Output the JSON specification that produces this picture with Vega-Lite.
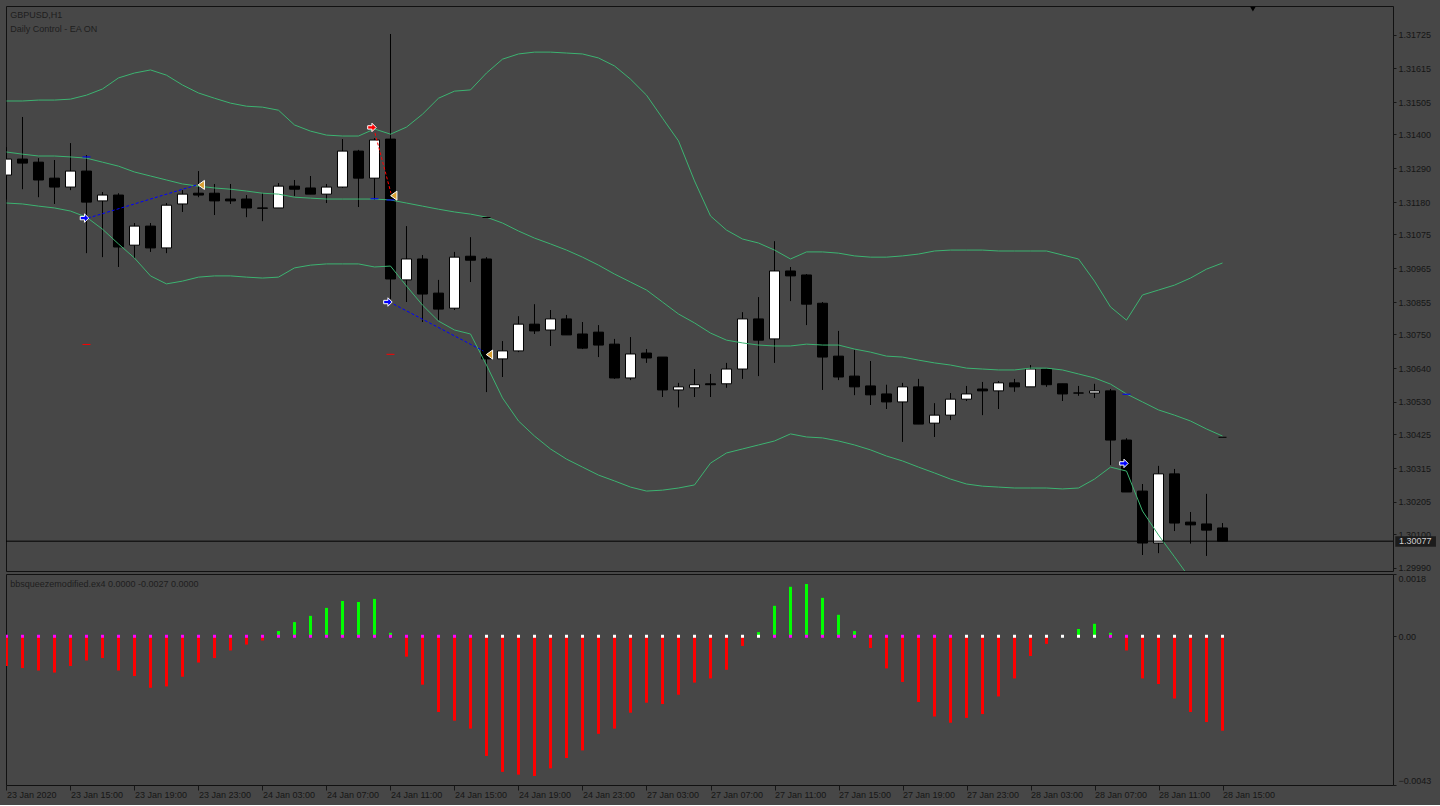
{
  "$schema": "https://vega.github.io/schema/vega-lite/v6.json",
  "background": "#474747",
  "padding": {"left": 5, "top": 5, "right": 5, "bottom": 5},
  "spacing": 3,
  "bounds": "flush",
  "resolve": {"scale": {"color": "independent", "fill": "independent", "stroke": "independent"}},
  "datasets": {
    "bars": [
      {"i":0,"o":1.31268,"h":1.31359,"l":1.31188,"c":1.31320,"up":1.31509,"mid":1.31343,"lo":1.31177,"hist":-0.00086,"sq":1},
      {"i":1,"o":1.31320,"h":1.31457,"l":1.31222,"c":1.31307,"up":1.31509,"mid":1.31336,"lo":1.31174,"hist":-0.00092,"sq":1},
      {"i":2,"o":1.31310,"h":1.31323,"l":1.31196,"c":1.31252,"up":1.31512,"mid":1.31330,"lo":1.31167,"hist":-0.00099,"sq":1},
      {"i":3,"o":1.31258,"h":1.31317,"l":1.31174,"c":1.31229,"up":1.31512,"mid":1.31330,"lo":1.31161,"hist":-0.00105,"sq":1},
      {"i":4,"o":1.31229,"h":1.31372,"l":1.31219,"c":1.31281,"up":1.31515,"mid":1.31327,"lo":1.31151,"hist":-0.00086,"sq":1},
      {"i":5,"o":1.31281,"h":1.31333,"l":1.31014,"c":1.31180,"up":1.31528,"mid":1.31323,"lo":1.31131,"hist":-0.00070,"sq":1},
      {"i":6,"o":1.31184,"h":1.31213,"l":1.31001,"c":1.31203,"up":1.31548,"mid":1.31310,"lo":1.31092,"hist":-0.00063,"sq":1},
      {"i":7,"o":1.31203,"h":1.31209,"l":1.30969,"c":1.31034,"up":1.31584,"mid":1.31297,"lo":1.31044,"hist":-0.00099,"sq":1},
      {"i":8,"o":1.31040,"h":1.31112,"l":1.30998,"c":1.31102,"up":1.31600,"mid":1.31278,"lo":1.30998,"hist":-0.00115,"sq":1},
      {"i":9,"o":1.31102,"h":1.31112,"l":1.31018,"c":1.31031,"up":1.31610,"mid":1.31265,"lo":1.30940,"hist":-0.00149,"sq":1},
      {"i":10,"o":1.31031,"h":1.31177,"l":1.31014,"c":1.31170,"up":1.31593,"mid":1.31252,"lo":1.30914,"hist":-0.00145,"sq":1},
      {"i":11,"o":1.31174,"h":1.31219,"l":1.31148,"c":1.31206,"up":1.31561,"mid":1.31239,"lo":1.30923,"hist":-0.00117,"sq":1},
      {"i":12,"o":1.31209,"h":1.31281,"l":1.31196,"c":1.31203,"up":1.31535,"mid":1.31232,"lo":1.30936,"hist":-0.00076,"sq":1},
      {"i":13,"o":1.31209,"h":1.31239,"l":1.31138,"c":1.31184,"up":1.31518,"mid":1.31226,"lo":1.30940,"hist":-0.00063,"sq":1},
      {"i":14,"o":1.31190,"h":1.31239,"l":1.31174,"c":1.31184,"up":1.31502,"mid":1.31222,"lo":1.30940,"hist":-0.00041,"sq":1},
      {"i":15,"o":1.31190,"h":1.31203,"l":1.31131,"c":1.31161,"up":1.31492,"mid":1.31216,"lo":1.30936,"hist":-0.00024,"sq":1},
      {"i":16,"o":1.31161,"h":1.31209,"l":1.31118,"c":1.31160,"up":1.31489,"mid":1.31209,"lo":1.30933,"hist":-0.00012,"sq":1},
      {"i":17,"o":1.31161,"h":1.31242,"l":1.31161,"c":1.31232,"up":1.31479,"mid":1.31206,"lo":1.30936,"hist":0.00015,"sq":1},
      {"i":18,"o":1.31232,"h":1.31252,"l":1.31200,"c":1.31222,"up":1.31431,"mid":1.31196,"lo":1.30966,"hist":0.00041,"sq":1},
      {"i":19,"o":1.31226,"h":1.31265,"l":1.31206,"c":1.31206,"up":1.31411,"mid":1.31193,"lo":1.30975,"hist":0.00059,"sq":1},
      {"i":20,"o":1.31206,"h":1.31239,"l":1.31177,"c":1.31229,"up":1.31398,"mid":1.31190,"lo":1.30979,"hist":0.00082,"sq":1},
      {"i":21,"o":1.31229,"h":1.31385,"l":1.31226,"c":1.31346,"up":1.31395,"mid":1.31190,"lo":1.30979,"hist":0.00102,"sq":1},
      {"i":22,"o":1.31346,"h":1.31350,"l":1.31164,"c":1.31258,"up":1.31395,"mid":1.31190,"lo":1.30979,"hist":0.00099,"sq":1},
      {"i":23,"o":1.31258,"h":1.31388,"l":1.31187,"c":1.31382,"up":1.31418,"mid":1.31190,"lo":1.30969,"hist":0.00108,"sq":1},
      {"i":24,"o":1.31385,"h":1.31727,"l":1.30865,"c":1.30930,"up":1.31401,"mid":1.31187,"lo":1.30972,"hist":0.00010,"sq":1},
      {"i":25,"o":1.30927,"h":1.31102,"l":1.30855,"c":1.30995,"up":1.31424,"mid":1.31177,"lo":1.30907,"hist":-0.00059,"sq":1},
      {"i":26,"o":1.30995,"h":1.31008,"l":1.30790,"c":1.30881,"up":1.31466,"mid":1.31167,"lo":1.30845,"hist":-0.00140,"sq":1},
      {"i":27,"o":1.30884,"h":1.30927,"l":1.30796,"c":1.30832,"up":1.31518,"mid":1.31157,"lo":1.30793,"hist":-0.00219,"sq":1},
      {"i":28,"o":1.30835,"h":1.31018,"l":1.30829,"c":1.31001,"up":1.31541,"mid":1.31148,"lo":1.30764,"hist":-0.00244,"sq":1},
      {"i":29,"o":1.31004,"h":1.31066,"l":1.30920,"c":1.30991,"up":1.31545,"mid":1.31141,"lo":1.30751,"hist":-0.00267,"sq":1},
      {"i":30,"o":1.30995,"h":1.31001,"l":1.30562,"c":1.30670,"up":1.31600,"mid":1.31131,"lo":1.30650,"hist":-0.00346,"sq":0},
      {"i":31,"o":1.30670,"h":1.30728,"l":1.30611,"c":1.30696,"up":1.31645,"mid":1.31112,"lo":1.30543,"hist":-0.00392,"sq":0},
      {"i":32,"o":1.30696,"h":1.30809,"l":1.30692,"c":1.30783,"up":1.31662,"mid":1.31086,"lo":1.30468,"hist":-0.00400,"sq":0},
      {"i":33,"o":1.30783,"h":1.30848,"l":1.30751,"c":1.30761,"up":1.31668,"mid":1.31063,"lo":1.30419,"hist":-0.00404,"sq":0},
      {"i":34,"o":1.30764,"h":1.30829,"l":1.30712,"c":1.30800,"up":1.31668,"mid":1.31044,"lo":1.30377,"hist":-0.00382,"sq":0},
      {"i":35,"o":1.30800,"h":1.30813,"l":1.30748,"c":1.30748,"up":1.31665,"mid":1.31024,"lo":1.30344,"hist":-0.00352,"sq":0},
      {"i":36,"o":1.30751,"h":1.30790,"l":1.30702,"c":1.30705,"up":1.31662,"mid":1.31001,"lo":1.30318,"hist":-0.00330,"sq":0},
      {"i":37,"o":1.30757,"h":1.30780,"l":1.30676,"c":1.30715,"up":1.31649,"mid":1.30975,"lo":1.30292,"hist":-0.00282,"sq":0},
      {"i":38,"o":1.30718,"h":1.30735,"l":1.30605,"c":1.30608,"up":1.31623,"mid":1.30946,"lo":1.30273,"hist":-0.00267,"sq":0},
      {"i":39,"o":1.30608,"h":1.30741,"l":1.30601,"c":1.30686,"up":1.31580,"mid":1.30920,"lo":1.30253,"hist":-0.00221,"sq":0},
      {"i":40,"o":1.30689,"h":1.30702,"l":1.30657,"c":1.30673,"up":1.31528,"mid":1.30894,"lo":1.30240,"hist":-0.00192,"sq":0},
      {"i":41,"o":1.30676,"h":1.30676,"l":1.30546,"c":1.30569,"up":1.31453,"mid":1.30855,"lo":1.30243,"hist":-0.00196,"sq":0},
      {"i":42,"o":1.30569,"h":1.30592,"l":1.30512,"c":1.30579,"up":1.31379,"mid":1.30816,"lo":1.30250,"hist":-0.00169,"sq":0},
      {"i":43,"o":1.30576,"h":1.30637,"l":1.30546,"c":1.30586,"up":1.31249,"mid":1.30787,"lo":1.30260,"hist":-0.00134,"sq":0},
      {"i":44,"o":1.30589,"h":1.30621,"l":1.30546,"c":1.30586,"up":1.31135,"mid":1.30754,"lo":1.30331,"hist":-0.00122,"sq":0},
      {"i":45,"o":1.30589,"h":1.30657,"l":1.30576,"c":1.30637,"up":1.31089,"mid":1.30731,"lo":1.30364,"hist":-0.00097,"sq":0},
      {"i":46,"o":1.30637,"h":1.30822,"l":1.30605,"c":1.30800,"up":1.31060,"mid":1.30722,"lo":1.30377,"hist":-0.00028,"sq":0},
      {"i":47,"o":1.30800,"h":1.30871,"l":1.30614,"c":1.30731,"up":1.31047,"mid":1.30715,"lo":1.30390,"hist":0.00012,"sq":0},
      {"i":48,"o":1.30735,"h":1.31053,"l":1.30657,"c":1.30956,"up":1.31024,"mid":1.30712,"lo":1.30403,"hist":0.00088,"sq":1},
      {"i":49,"o":1.30956,"h":1.30969,"l":1.30858,"c":1.30940,"up":1.30995,"mid":1.30712,"lo":1.30426,"hist":0.00143,"sq":1},
      {"i":50,"o":1.30943,"h":1.30946,"l":1.30780,"c":1.30848,"up":1.31018,"mid":1.30718,"lo":1.30416,"hist":0.00151,"sq":1},
      {"i":51,"o":1.30851,"h":1.30855,"l":1.30569,"c":1.30676,"up":1.31018,"mid":1.30715,"lo":1.30413,"hist":0.00111,"sq":1},
      {"i":52,"o":1.30679,"h":1.30761,"l":1.30601,"c":1.30611,"up":1.31014,"mid":1.30715,"lo":1.30403,"hist":0.00062,"sq":1},
      {"i":53,"o":1.30614,"h":1.30699,"l":1.30552,"c":1.30579,"up":1.31005,"mid":1.30702,"lo":1.30390,"hist":0.00015,"sq":1},
      {"i":54,"o":1.30582,"h":1.30663,"l":1.30520,"c":1.30553,"up":1.31001,"mid":1.30692,"lo":1.30374,"hist":-0.00034,"sq":1},
      {"i":55,"o":1.30556,"h":1.30586,"l":1.30507,"c":1.30530,"up":1.31001,"mid":1.30679,"lo":1.30354,"hist":-0.00093,"sq":1},
      {"i":56,"o":1.30530,"h":1.30592,"l":1.30400,"c":1.30579,"up":1.31005,"mid":1.30676,"lo":1.30338,"hist":-0.00132,"sq":1},
      {"i":57,"o":1.30579,"h":1.30605,"l":1.30458,"c":1.30458,"up":1.31011,"mid":1.30666,"lo":1.30318,"hist":-0.00190,"sq":1},
      {"i":58,"o":1.30461,"h":1.30526,"l":1.30416,"c":1.30487,"up":1.31021,"mid":1.30657,"lo":1.30299,"hist":-0.00232,"sq":1},
      {"i":59,"o":1.30487,"h":1.30559,"l":1.30471,"c":1.30539,"up":1.31024,"mid":1.30650,"lo":1.30279,"hist":-0.00250,"sq":1},
      {"i":60,"o":1.30539,"h":1.30582,"l":1.30533,"c":1.30556,"up":1.31024,"mid":1.30640,"lo":1.30263,"hist":-0.00236,"sq":0},
      {"i":61,"o":1.30572,"h":1.30595,"l":1.30487,"c":1.30566,"up":1.31024,"mid":1.30637,"lo":1.30256,"hist":-0.00225,"sq":0},
      {"i":62,"o":1.30566,"h":1.30598,"l":1.30507,"c":1.30592,"up":1.31021,"mid":1.30634,"lo":1.30253,"hist":-0.00174,"sq":0},
      {"i":63,"o":1.30592,"h":1.30605,"l":1.30563,"c":1.30579,"up":1.31021,"mid":1.30634,"lo":1.30250,"hist":-0.00122,"sq":0},
      {"i":64,"o":1.30579,"h":1.30650,"l":1.30579,"c":1.30637,"up":1.31021,"mid":1.30640,"lo":1.30250,"hist":-0.00057,"sq":0},
      {"i":65,"o":1.30637,"h":1.30637,"l":1.30579,"c":1.30586,"up":1.31021,"mid":1.30640,"lo":1.30250,"hist":-0.00022,"sq":0},
      {"i":66,"o":1.30589,"h":1.30589,"l":1.30533,"c":1.30556,"up":1.31008,"mid":1.30634,"lo":1.30247,"hist":0.0,"sq":0},
      {"i":67,"o":1.30559,"h":1.30582,"l":1.30550,"c":1.30559,"up":1.30995,"mid":1.30621,"lo":1.30250,"hist":0.00021,"sq":0},
      {"i":68,"o":1.30559,"h":1.30589,"l":1.30543,"c":1.30566,"up":1.30923,"mid":1.30608,"lo":1.30279,"hist":0.00036,"sq":0},
      {"i":69,"o":1.30566,"h":1.30572,"l":1.30325,"c":1.30406,"up":1.30839,"mid":1.30588,"lo":1.30318,"hist":0.00010,"sq":1},
      {"i":70,"o":1.30406,"h":1.30412,"l":1.30237,"c":1.30237,"up":1.30796,"mid":1.30556,"lo":1.30305,"hist":-0.00041,"sq":1},
      {"i":71,"o":1.30240,"h":1.30263,"l":1.30032,"c":1.30071,"up":1.30878,"mid":1.30530,"lo":1.30175,"hist":-0.00122,"sq":0},
      {"i":72,"o":1.30071,"h":1.30322,"l":1.30038,"c":1.30296,"up":1.30894,"mid":1.30504,"lo":1.30097,"hist":-0.00138,"sq":0},
      {"i":73,"o":1.30296,"h":1.30312,"l":1.30110,"c":1.30136,"up":1.30910,"mid":1.30487,"lo":1.30026,"hist":-0.00180,"sq":0},
      {"i":74,"o":1.30139,"h":1.30172,"l":1.30069,"c":1.30130,"up":1.30933,"mid":1.30468,"lo":1.29954,"hist":-0.00219,"sq":0},
      {"i":75,"o":1.30133,"h":1.30231,"l":1.30029,"c":1.30113,"up":1.30962,"mid":1.30442,"lo":1.29895,"hist":-0.00248,"sq":0},
      {"i":76,"o":1.30120,"h":1.30136,"l":1.30077,"c":1.30077,"up":1.30982,"mid":1.30419,"lo":1.29843,"hist":-0.00273,"sq":0}
    ],
    "arrows": [
      {"kind":"buy","i":4.875,"p":1.31128},
      {"kind":"sell","i":22.84,"p":1.31423},
      {"kind":"buy","i":23.84,"p":1.30855},
      {"kind":"buy","i":69.84,"p":1.30330}
    ],
    "exits": [
      {"i":12.09,"p":1.31236},
      {"i":24.12,"p":1.31201},
      {"i":30.1,"p":1.30684}
    ],
    "trades": [
      {"trade":1,"side":"buy","i":5.09,"p":1.31128},
      {"trade":1,"side":"buy","i":11.9,"p":1.31236},
      {"trade":2,"side":"sell","i":23.03,"p":1.31405},
      {"trade":2,"side":"sell","i":24.03,"p":1.31209},
      {"trade":3,"side":"buy","i":24.2,"p":1.30848},
      {"trade":3,"side":"buy","i":29.8,"p":1.30696}
    ],
    "levels": [
      {"kind":"buy","i":5,"p":1.31327},
      {"kind":"buy","i":23,"p":1.31191},
      {"kind":"buy","i":24,"p":1.31187},
      {"kind":"sell","i":5,"p":1.30717},
      {"kind":"sell","i":24,"p":1.30685},
      {"kind":"close","i":30,"p":1.31130},
      {"kind":"buy","i":70,"p":1.30555},
      {"kind":"close","i":76,"p":1.30415}
    ]
  },
  "vconcat": [
    {
      "width": 1387,
      "height": 565,
      "layer": [
        {
          "data": {"name": "bars"},
          "mark": {"type": "rule", "color": "#000000", "strokeWidth": 1, "clip": true},
          "encoding": {
            "x": {"field": "i", "type": "quantitative", "scale": {"domain": [-0.031, 86.656], "nice": false, "zero": false, "padding": 0}, "axis": null},
            "y": {"field": "l", "type": "quantitative", "scale": {"domain": [1.2998, 1.31818], "nice": false, "zero": false, "padding": 0},
              "axis": {"orient": "right", "values": [1.31725, 1.31615, 1.31505, 1.314, 1.3129, 1.3118, 1.31075, 1.30965, 1.30855, 1.3075, 1.3064, 1.3053, 1.30425, 1.30315, 1.30205, 1.301, 1.2999], "tickCount": 40, "format": ".5f", "tickSize": 3, "labelPadding": 2, "title": null, "domain": false, "labelBaseline": "middle", "labelOverlap": false, "labelFlush": false}},
            "y2": {"field": "h"}
          }
        },
        {
          "data": {"name": "bars"},
          "mark": {"type": "bar", "size": 10, "stroke": "#000000", "strokeWidth": 1, "clip": true},
          "encoding": {
            "x": {"field": "i", "type": "quantitative", "axis": null},
            "y": {"field": "o", "type": "quantitative", "title": null},
            "y2": {"field": "c"},
            "fill": {"condition": {"test": "datum.c > datum.o", "value": "#ffffff"}, "value": "#000000"}
          }
        },
        {
          "data": {"name": "bars"},
          "mark": {"type": "line", "color": "#3cb371", "strokeWidth": 1, "clip": true},
          "encoding": {
            "x": {"field": "i", "type": "quantitative", "axis": null},
            "y": {"field": "up", "type": "quantitative", "title": null}
          }
        },
        {
          "data": {"name": "bars"},
          "mark": {"type": "line", "color": "#3cb371", "strokeWidth": 1, "clip": true},
          "encoding": {
            "x": {"field": "i", "type": "quantitative", "axis": null},
            "y": {"field": "mid", "type": "quantitative", "title": null}
          }
        },
        {
          "data": {"name": "bars"},
          "mark": {"type": "line", "color": "#3cb371", "strokeWidth": 1, "clip": true},
          "encoding": {
            "x": {"field": "i", "type": "quantitative", "axis": null},
            "y": {"field": "lo", "type": "quantitative", "title": null}
          }
        },
        {
          "data": {"values": [{}]},
          "mark": {"type": "rule", "color": "#000000", "strokeWidth": 1},
          "encoding": {"y": {"datum": 1.30077, "type": "quantitative"}}
        },
        {
          "data": {"name": "trades"},
          "mark": {"type": "line", "strokeWidth": 1, "strokeDash": [3, 2], "clip": true},
          "encoding": {
            "x": {"field": "i", "type": "quantitative", "axis": null},
            "y": {"field": "p", "type": "quantitative", "title": null},
            "detail": {"field": "trade", "type": "nominal"},
            "color": {"field": "side", "type": "nominal", "scale": {"domain": ["buy", "sell"], "range": ["#0000ff", "#ff0000"]}, "legend": null}
          }
        },
        {
          "data": {"name": "levels"},
          "mark": {"type": "point", "shape": "M-1,0L1,0", "size": 64, "filled": false, "strokeWidth": 1, "clip": true, "opacity": 1},
          "encoding": {
            "x": {"field": "i", "type": "quantitative", "axis": null},
            "y": {"field": "p", "type": "quantitative", "title": null},
            "stroke": {"field": "kind", "type": "nominal", "scale": {"domain": ["buy", "sell", "close"], "range": ["#0000ff", "#ff0000", "#000000"]}, "legend": null}
          }
        },
        {
          "data": {"name": "exits"},
          "mark": {"type": "point", "shape": "M1,-1L-0.4,0L1,1Z", "size": 81, "filled": true, "fill": "#d9a032", "stroke": "#ffffff", "strokeWidth": 1, "opacity": 1, "clip": true},
          "encoding": {
            "x": {"field": "i", "type": "quantitative", "axis": null},
            "y": {"field": "p", "type": "quantitative", "title": null}
          }
        },
        {
          "data": {"name": "arrows"},
          "mark": {"type": "point", "shape": "M-1,-0.4L0,-0.4L0,-1L1,0L0,1L0,0.4L-1,0.4Z", "size": 72, "filled": true, "stroke": "#ffffff", "strokeWidth": 1, "opacity": 1, "clip": true},
          "encoding": {
            "x": {"field": "i", "type": "quantitative", "axis": null},
            "y": {"field": "p", "type": "quantitative", "title": null},
            "fill": {"field": "kind", "type": "nominal", "scale": {"domain": ["buy", "sell"], "range": ["#0000ff", "#ff0000"]}, "legend": null}
          }
        },
        {
          "data": {"values": [{}]},
          "mark": {"type": "text", "align": "left", "baseline": "alphabetic", "font": "Liberation Sans", "fontSize": 9, "color": "#1e1e1e", "clip": true},
          "encoding": {
            "x": {"datum": 0.24, "type": "quantitative"},
            "y": {"datum": 1.31778, "type": "quantitative"},
            "text": {"value": "GBPUSD,H1"}
          }
        },
        {
          "data": {"values": [{}]},
          "mark": {"type": "text", "align": "left", "baseline": "alphabetic", "font": "Liberation Sans", "fontSize": 9, "color": "#1e1e1e", "clip": true},
          "encoding": {
            "x": {"datum": 0.24, "type": "quantitative"},
            "y": {"datum": 1.31735, "type": "quantitative"},
            "text": {"value": "Daily Control - EA ON"}
          }
        },
        {
          "data": {"values": [{}]},
          "mark": {"type": "point", "shape": "triangle-down", "size": 30, "filled": true, "color": "#000000", "opacity": 1, "clip": true},
          "encoding": {
            "x": {"datum": 77.9, "type": "quantitative"},
            "y": {"datum": 1.31808, "type": "quantitative"}
          }
        },
        {
          "data": {"values": [{}]},
          "mark": {"type": "rect", "color": "#1c1c1c", "clip": false},
          "encoding": {
            "x": {"datum": 86.8, "type": "quantitative"},
            "x2": {"datum": 89.34},
            "y": {"datum": 1.30093, "type": "quantitative"},
            "y2": {"datum": 1.30059}
          }
        },
        {
          "data": {"values": [{}]},
          "mark": {"type": "text", "align": "left", "baseline": "middle", "font": "Liberation Sans", "fontSize": 9, "color": "#cfcfcf", "clip": false},
          "encoding": {
            "x": {"datum": 87.03, "type": "quantitative"},
            "y": {"datum": 1.30077, "type": "quantitative"},
            "text": {"value": "1.30077"}
          }
        }
      ]
    },
    {
      "width": 1387,
      "height": 211,
      "layer": [
        {
          "data": {"name": "bars"},
          "mark": {"type": "bar", "size": 3, "clip": true},
          "encoding": {
            "x": {"field": "i", "type": "quantitative", "scale": {"domain": [-0.031, 86.656], "nice": false, "zero": false, "padding": 0},
              "axis": {"values": [0, 4, 8, 12, 16, 20, 24, 28, 32, 36, 40, 44, 48, 52, 56, 60, 64, 68, 72, 76], "tickCount": 40,
                "labelExpr": "['23 Jan 2020','23 Jan 15:00','23 Jan 19:00','23 Jan 23:00','24 Jan 03:00','24 Jan 07:00','24 Jan 11:00','24 Jan 15:00','24 Jan 19:00','24 Jan 23:00','27 Jan 03:00','27 Jan 07:00','27 Jan 11:00','27 Jan 15:00','27 Jan 19:00','27 Jan 23:00','28 Jan 03:00','28 Jan 07:00','28 Jan 11:00','28 Jan 15:00'][round(datum.value/4)]",
                "labelAlign": "left", "labelBaseline": "top", "tickSize": 5, "labelPadding": 0, "labelOverlap": false, "labelFlush": false, "domain": false, "title": null}},
            "y": {"field": "hist", "type": "quantitative", "scale": {"domain": [-0.0043, 0.0018], "nice": false, "zero": false, "padding": 0},
              "axis": {"orient": "right", "values": [0.0018, 0, -0.0043], "labelExpr": "datum.value == 0 ? '0.00' : format(datum.value, '.4f')", "labelFlush": true, "tickSize": 3, "labelPadding": 2, "domain": false, "title": null}},
            "y2": {"datum": 0},
            "color": {"condition": {"test": "datum.hist >= 0", "value": "#00ff00"}, "value": "#ff0000"}
          }
        },
        {
          "data": {"name": "bars"},
          "mark": {"type": "point", "shape": "square", "size": 9, "filled": true, "strokeWidth": 0, "opacity": 1, "clip": true},
          "encoding": {
            "x": {"field": "i", "type": "quantitative", "title": null},
            "y": {"datum": 0, "type": "quantitative"},
            "fill": {"field": "sq", "type": "nominal", "scale": {"domain": [0, 1], "range": ["#ffffff", "#ff00ff"]}, "legend": null}
          }
        },
        {
          "data": {"values": [{}]},
          "mark": {"type": "text", "align": "left", "baseline": "alphabetic", "font": "Liberation Sans", "fontSize": 9, "color": "#1e1e1e", "clip": true},
          "encoding": {
            "x": {"datum": 0.24, "type": "quantitative"},
            "y": {"datum": 0.00143, "type": "quantitative"},
            "text": {"value": "bbsqueezemodified.ex4 0.0000 -0.0027 0.0000"}
          }
        }
      ]
    }
  ],
  "config": {
    "view": {"stroke": "#111111", "strokeWidth": 1, "fill": "#474747"},
    "axis": {"labelFont": "Liberation Sans", "labelFontSize": 9, "labelColor": "#161616", "tickColor": "#161616", "grid": false, "labelOverlap": false},
    "text": {"font": "Liberation Sans", "fontSize": 9}
  }
}
